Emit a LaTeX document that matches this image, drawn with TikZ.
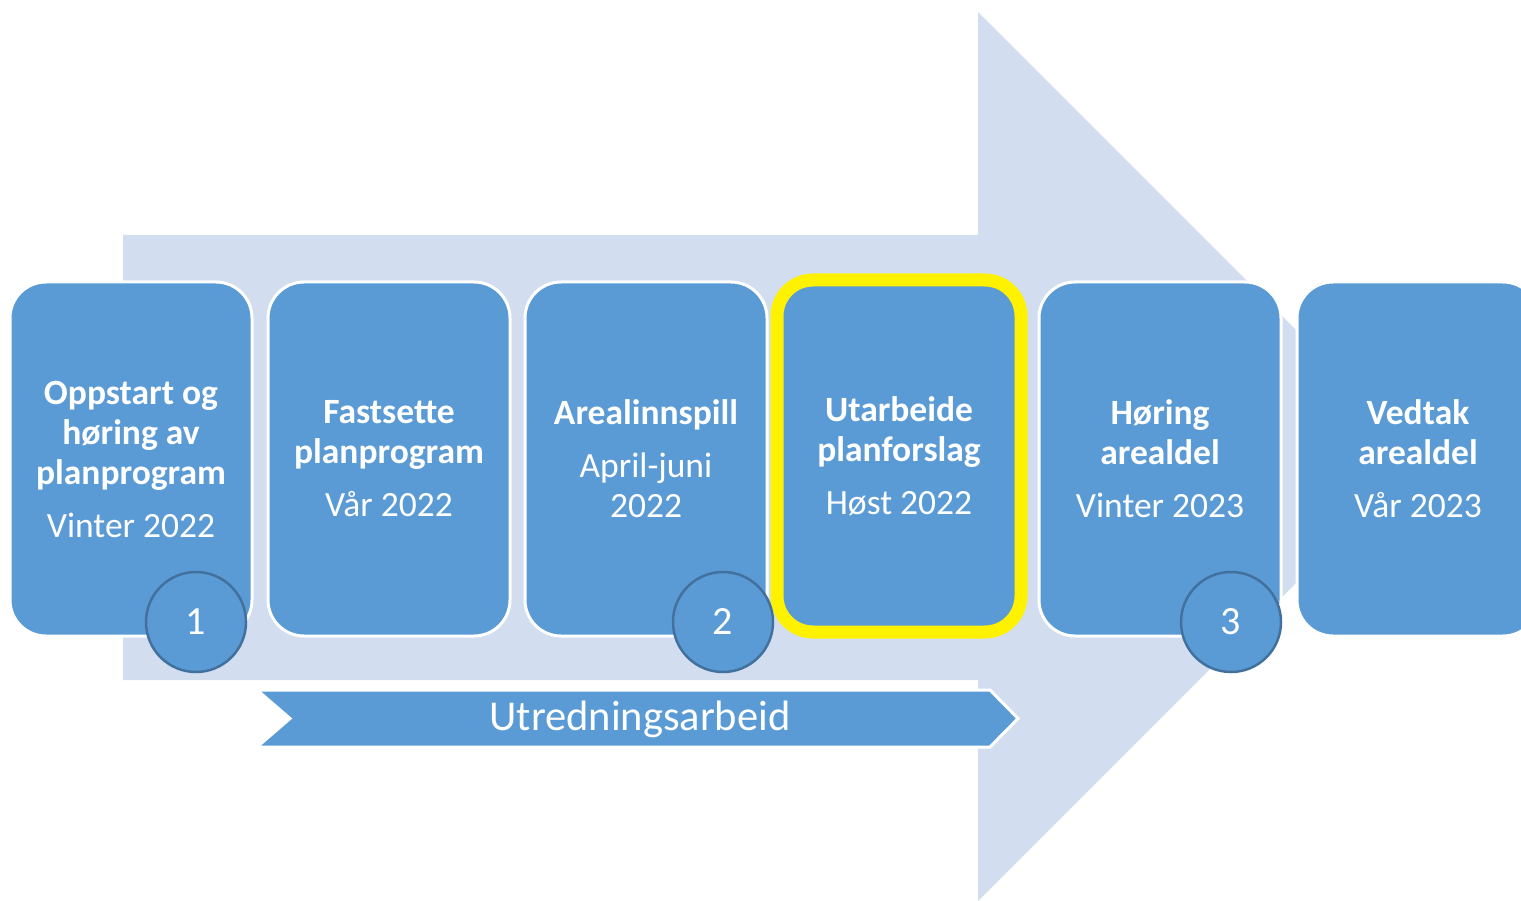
\documentclass[tikz,border=0pt]{standalone}
\usepackage{fontspec}
\setmainfont{Carlito}
\usetikzlibrary{positioning}

\definecolor{stageblue}{HTML}{5B9BD5}
\definecolor{arrowblue}{HTML}{D2DEEF}
\definecolor{ringblue}{HTML}{41719C}

\tikzset{
  stagebox/.style={rectangle, rounded corners=36, fill=stageblue, draw=white, line width=3,
    minimum width=242, minimum height=354, text=white, align=center,
    font=\fontsize{35.5}{40}\selectfont},
  current/.style={draw=yellow, line width=13, minimum width=244, minimum height=352},
  milestone/.style={circle, fill=stageblue, draw=ringblue, line width=2.5,
    minimum size=100, text=white, font=\fontsize{40}{44}\selectfont},
  bandtext/.style={text=white, font=\fontsize{42.5}{46}\selectfont},
}

\begin{document}
\begin{tikzpicture}[x=1pt, y=-1pt]
  \useasboundingbox (0,0) rectangle (1521,901);
  \clip (0,0) rectangle (1521,901);
  % big arrow in the back
  \fill[arrowblue] (123,235) -- (978,235) -- (978,12) -- (1422.5,456.5)
    -- (978,901) -- (978,680) -- (123,680) -- cycle;
  % study band
  \draw[fill=stageblue, draw=white, line width=3] (257,690) -- (990,690) -- (1018,718.5)
    -- (990,747) -- (257,747) -- (290,718.5) -- cycle;
  \node[bandtext] (utredning) at (640,719) {Utredningsarbeid};
  %
  \node[stagebox] (oppstart) at (131,459) {\textbf{Oppstart og}\\\textbf{høring av}\\\textbf{planprogram}\\[13pt]Vinter 2022};
  \node[stagebox] (fastsette) at (389,459) {\textbf{Fastsette}\\\textbf{planprogram}\\[13pt]Vår 2022};
  \node[stagebox] (innspill) at (646,459) {\textbf{Arealinnspill}\\[13pt]April-juni\\2022};
  \node[stagebox, current] (utarbeide) at (899,456) {\textbf{Utarbeide}\\\textbf{planforslag}\\[13pt]Høst 2022};
  \node[stagebox] (hoering) at (1160,459) {\textbf{Høring}\\\textbf{arealdel}\\[13pt]Vinter 2023};
  \node[stagebox] (vedtak) at (1418,459) {\textbf{Vedtak}\\\textbf{arealdel}\\[13pt]Vår 2023};
  % milestones
  \node[milestone] (m1) at (196,622) {1};
  \node[milestone] (m2) at (723,622) {2};
  \node[milestone] (m3) at (1231,622) {3};
\end{tikzpicture}
\end{document}
